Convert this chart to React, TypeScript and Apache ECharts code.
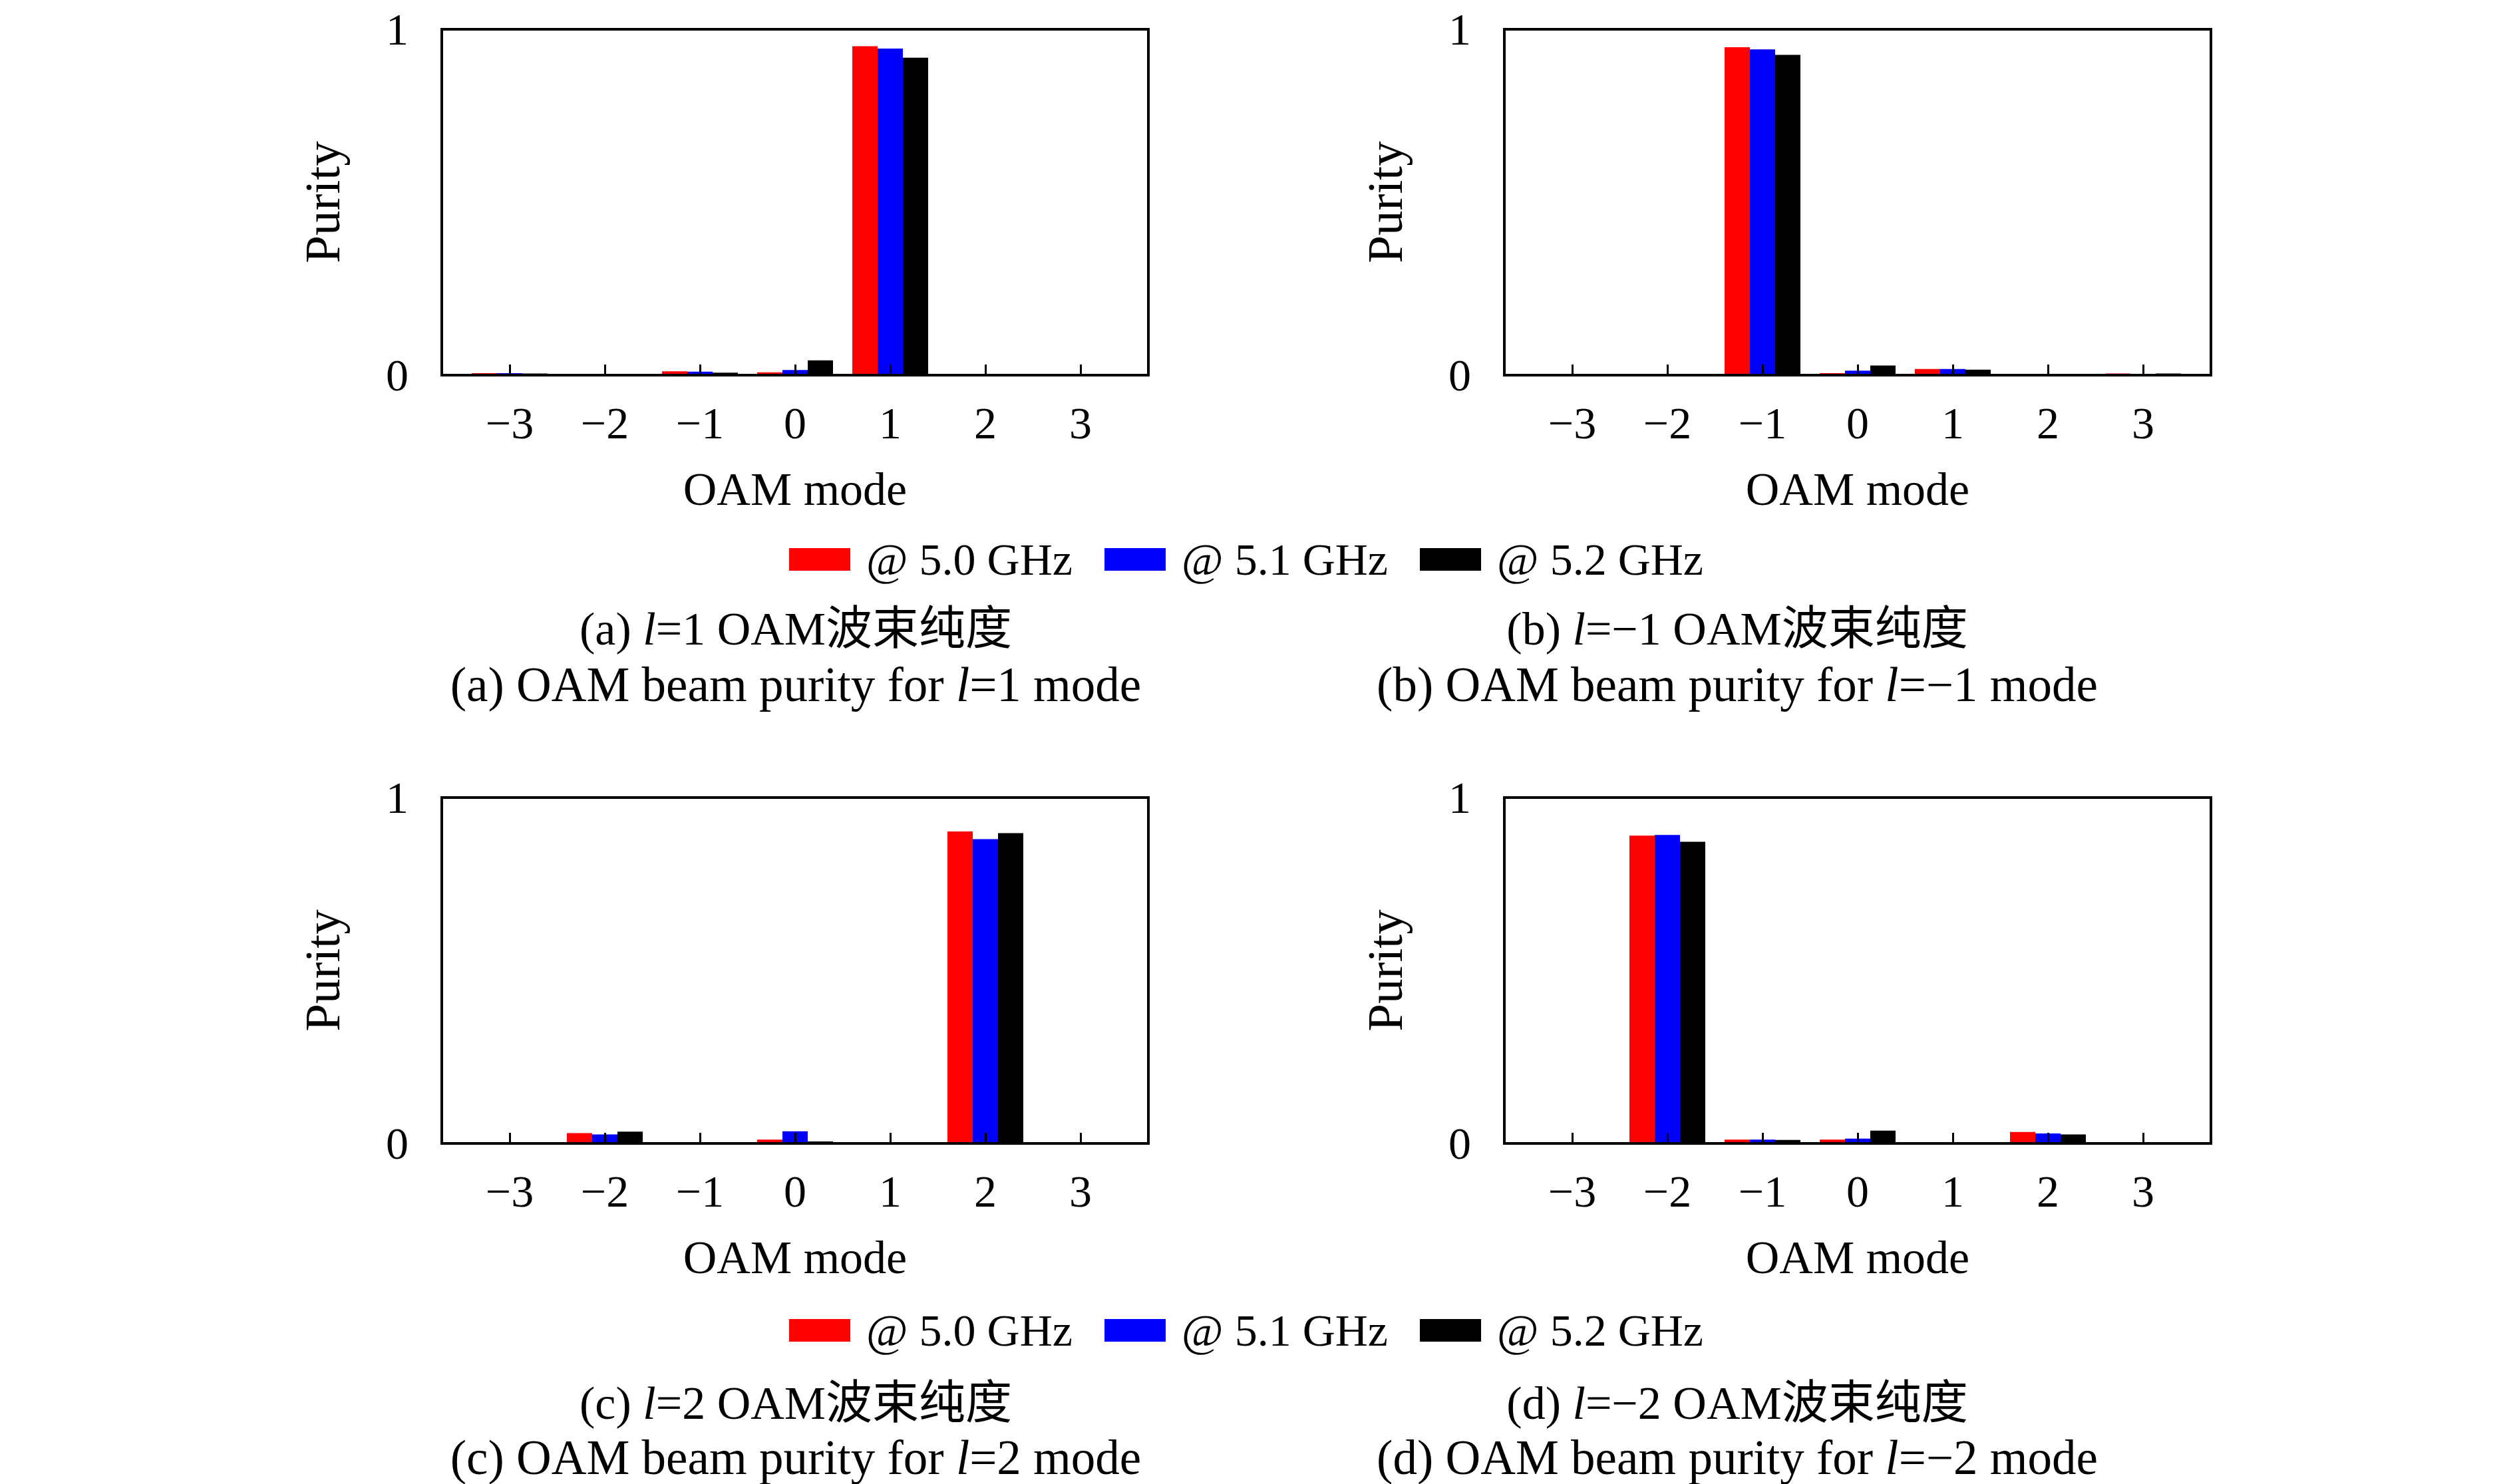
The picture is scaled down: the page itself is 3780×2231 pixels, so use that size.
import React, { useEffect, useRef } from 'react';
import * as echarts from 'echarts';

// ---- data ----
const modes = ['−3', '−2', '−1', '0', '1', '2', '3'];
const seriesNames = ['@ 5.0 GHz', '@ 5.1 GHz', '@ 5.2 GHz'];
const yTickValues = [0, 1];

// (a) l = 1
const a50 = [0.006, 0, 0.011, 0.008, 0.951, 0.003, 0];
const a51 = [0.006, 0, 0.010, 0.015, 0.944, 0.003, 0];
const a52 = [0.005, 0, 0.007, 0.043, 0.918, 0.003, 0];
// (b) l = -1
const b50 = [0, 0, 0.948, 0.006, 0.018, 0, 0.005];
const b51 = [0, 0, 0.942, 0.013, 0.018, 0, 0.004];
const b52 = [0, 0, 0.926, 0.028, 0.016, 0, 0.005];
// (c) l = 2
const c50 = [0, 0.030, 0, 0.011, 0, 0.902, 0];
const c51 = [0, 0.026, 0, 0.035, 0, 0.880, 0];
const c52 = [0, 0.034, 0, 0.006, 0.004, 0.897, 0];
// (d) l = -2
const d50 = [0, 0.890, 0.011, 0.011, 0, 0.033, 0];
const d51 = [0, 0.892, 0.011, 0.014, 0, 0.029, 0];
const d52 = [0, 0.872, 0.010, 0.037, 0, 0.026, 0];

const captionsZh = [
  '(a) {i|l}=1 OAM波束纯度',
  '(b) {i|l}=−1 OAM波束纯度',
  '(c) {i|l}=2 OAM波束纯度',
  '(d) {i|l}=−2 OAM波束纯度',
];
const captionsEn = [
  '(a) OAM beam purity for {i|l}=1 mode',
  '(b) OAM beam purity for {i|l}=−1 mode',
  '(c) OAM beam purity for {i|l}=2 mode',
  '(d) OAM beam purity for {i|l}=−2 mode',
];

// ---- styling / layout ----
const FONT = "'Liberation Serif', 'Noto Sans CJK SC', serif";
const COLORS = ['#ff0000', '#0000ff', '#000000'];
const FS = 68;
const W = 1062;
const H = 520;
const BAND = 143;
const panels = [
  { left: 664, top: 44, data: [a50, a51, a52], capX: 1196, capY: [945, 1029] },
  { left: 2261, top: 44, data: [b50, b51, b52], capX: 2611, capY: [945, 1029] },
  { left: 664, top: 1199, data: [c50, c51, c52], capX: 1196, capY: [2109, 2191] },
  { left: 2261, top: 1199, data: [d50, d51, d52], capX: 2611, capY: [2109, 2191] },
];

function buildOption() {
  const grid: any[] = [];
  const xAxis: any[] = [];
  const yAxis: any[] = [];
  const series: any[] = [];
  const graphic: any[] = [];
  const textStyle = { fontSize: FS, fontFamily: FONT, color: '#000' };
  const barW = BAND * 7;
  const inset = (W - barW) / 2;

  panels.forEach((p, i) => {
    const fg = 2 * i;
    const bg = 2 * i + 1;
    grid.push({
      left: p.left, top: p.top, width: W, height: H,
      show: true, borderColor: '#000', borderWidth: 4,
      backgroundColor: 'transparent', z: 3,
    });
    grid.push({ left: p.left + inset, top: p.top, width: barW, height: H });

    xAxis.push({ type: 'value', gridIndex: fg, show: false, min: 0, max: 1 });
    xAxis.push({
      type: 'category', gridIndex: bg, data: modes, z: 4,
      axisLine: { show: false },
      axisTick: { show: true, inside: true, length: 16, alignWithLabel: true, interval: 0, lineStyle: { color: '#000', width: 3 } },
      axisLabel: { ...textStyle, margin: 38, interval: 0 },
      splitLine: { show: false },
      name: 'OAM mode', nameLocation: 'middle', nameGap: 136,
      nameTextStyle: { ...textStyle, fontSize: 70 },
    });

    yAxis.push({
      type: 'value', gridIndex: fg, min: yTickValues[0], max: yTickValues[1], interval: 1,
      axisLine: { show: false }, axisTick: { show: false }, splitLine: { show: false },
      axisLabel: { ...textStyle, margin: 50 },
      name: 'Purity', nameLocation: 'middle', nameGap: 142,
      nameTextStyle: { ...textStyle, fontSize: 75 },
    });
    yAxis.push({ type: 'value', gridIndex: bg, min: 0, max: 1, show: false });

    p.data.forEach((vals, s) => {
      series.push({
        type: 'bar', name: seriesNames[s], xAxisIndex: bg, yAxisIndex: bg,
        data: vals, barWidth: 38, barGap: '0%', z: 2,
        itemStyle: { color: COLORS[s] },
      });
    });

    const sizes = [70, 73];
    [captionsZh[i], captionsEn[i]].forEach((t, k) => {
      const fs = sizes[k];
      graphic.push({
        type: 'text', x: p.capX, y: p.capY[k],
        style: {
          text: t,
          rich: { i: { fontStyle: 'italic', fontSize: fs, fontFamily: FONT, fill: '#000' } },
          fontSize: fs, fontFamily: FONT, fill: '#000',
          align: 'center', verticalAlign: 'middle',
          textAlign: 'center', textVerticalAlign: 'middle',
        },
      });
    });
  });

  const legendBase = {
    left: 1181, itemWidth: 92, itemHeight: 34, itemGap: 48, icon: 'rect',
    data: seriesNames, selectedMode: false,
    textStyle: { ...textStyle, padding: [0, 0, 0, 19], lineHeight: FS },
  };

  return {
    animation: false,
    backgroundColor: '#fff',
    grid, xAxis, yAxis, series, graphic,
    legend: [
      { ...legendBase, top: 802 },
      { ...legendBase, top: 1961 },
    ],
  };
}

export default function App() {
  const ref = useRef<HTMLDivElement>(null);
  useEffect(() => {
    document.body.style.margin = '0';
    const chart = echarts.init(ref.current!, null, { renderer: 'svg' });
    chart.setOption(buildOption() as any);
    return () => chart.dispose();
  }, []);
  return <div ref={ref} style={{ width: 3780, height: 2231 }} />;
}
